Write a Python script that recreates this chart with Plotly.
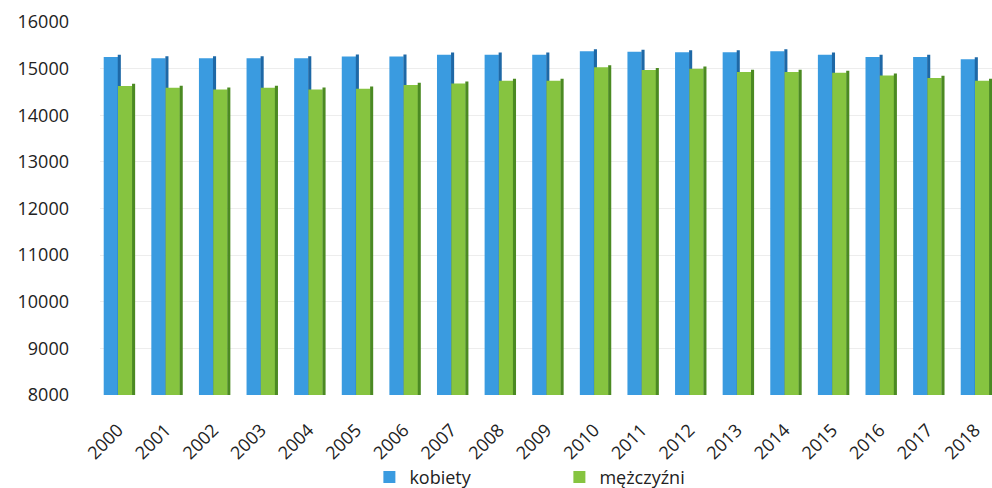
import plotly.graph_objects as go

years = list(range(2000, 2019))
kobiety = [15250, 15220, 15220, 15220, 15220, 15260, 15260, 15300, 15300, 15300,
           15370, 15360, 15350, 15350, 15370, 15300, 15250, 15250, 15200]
mezczyzni = [14630, 14590, 14550, 14590, 14550, 14570, 14650, 14680, 14740, 14740,
             15030, 14970, 15000, 14930, 14930, 14910, 14850, 14800, 14740]
y_ticks = list(range(8000, 16001, 1000))

FRONT_W = 0.30
SIDE_W = 0.065
CAP = 45  # small rise of the side face to mimic the 3D top

fig = go.Figure()

fig.add_trace(go.Bar(x=years, y=kobiety, name="kobiety",
                     offset=-FRONT_W, width=FRONT_W,
                     marker=dict(color="#3a9be0", line=dict(width=0))))
fig.add_trace(go.Bar(x=years, y=[v + CAP for v in kobiety], showlegend=False, hoverinfo="skip",
                     offset=-0.005, width=SIDE_W,
                     marker=dict(color="#1e68a6", line=dict(width=0))))
fig.add_trace(go.Bar(x=years, y=mezczyzni, name="mężczyźni",
                     offset=0.0, width=FRONT_W,
                     marker=dict(color="#86c440", line=dict(width=0))))
fig.add_trace(go.Bar(x=years, y=[v + CAP for v in mezczyzni], showlegend=False, hoverinfo="skip",
                     offset=FRONT_W - 0.005, width=SIDE_W,
                     marker=dict(color="#4b8a22", line=dict(width=0))))

fig.update_layout(
    width=992, height=488,
    margin=dict(l=100, r=0, t=22, b=93, autoexpand=False),
    barmode="overlay",
    paper_bgcolor="white", plot_bgcolor="white",
    font=dict(family="Open Sans, sans-serif", size=18, color="#222222"),
    showlegend=True,
    legend=dict(orientation="h", x=0.302, xanchor="left",
                yref="container", y=0.022, yanchor="middle",
                font=dict(size=18, color="#222222"), entrywidth=145, itemwidth=30,
                traceorder="normal", bgcolor="rgba(0,0,0,0)"),
)
fig.update_xaxes(
    range=[1999.622, 2018.357], automargin=False,
    tickmode="array", tickvals=years, ticktext=[str(y) for y in years],
    tickangle=-45, showgrid=False, zeroline=False, showline=False,
    ticks="", ticklabelstandoff=20, tickfont=dict(size=18),
)
fig.update_yaxes(
    range=[8000, 16000], automargin=False, tickmode="array", tickvals=y_ticks,
    ticktext=[str(t) for t in y_ticks],
    showgrid=True, gridcolor="#ededed", gridwidth=1, zeroline=False, showline=False,
    ticks="", ticklabelstandoff=30, tickfont=dict(size=18),
)

fig.write_html("out.html")
